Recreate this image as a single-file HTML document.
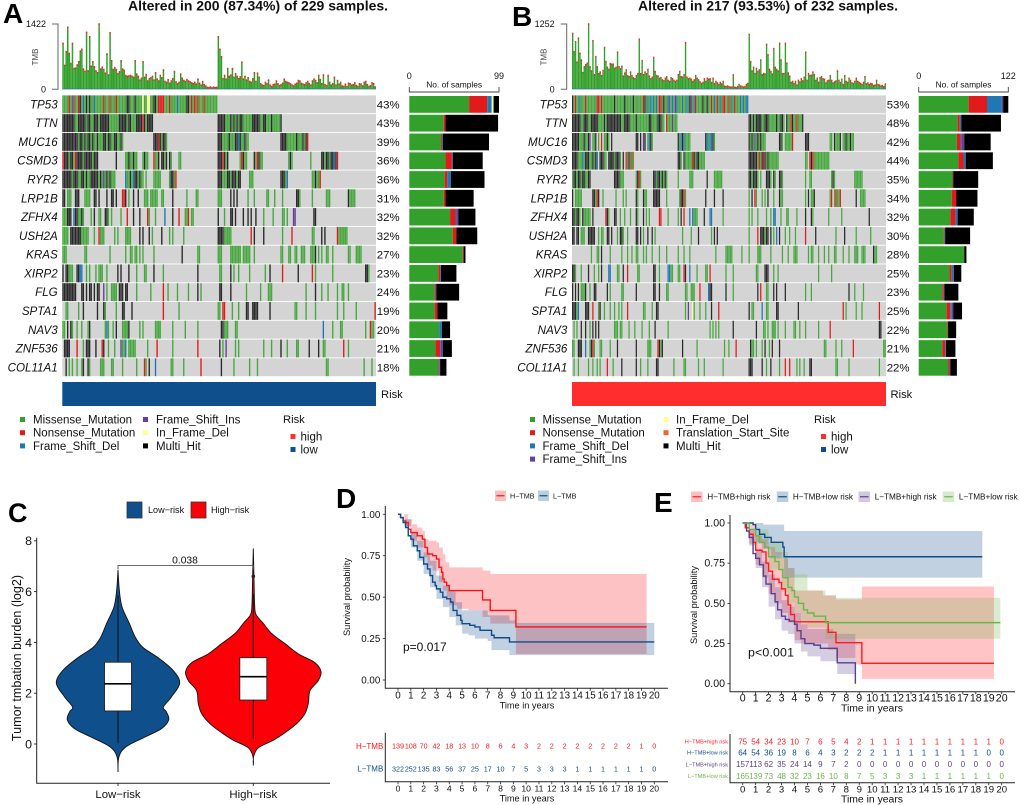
<!DOCTYPE html>
<html lang="en">
<head>
<meta charset="utf-8">
<title>Mutation landscape and survival panels</title>
<style>
html,body{margin:0;padding:0;background:#fff;}
#figure{display:block;width:1020px;height:805px;filter:blur(0.35px);font-family:"Liberation Sans",sans-serif;}
text{font-family:"Liberation Sans",sans-serif;fill:#111;}
</style>
</head>
<body>
<svg id="figure" xmlns="http://www.w3.org/2000/svg" width="1020" height="805" viewBox="0 0 1020 805">
  <rect x="0" y="0" width="1020" height="805" fill="#fff"/>
  <g id="panelA">
    <text x="3" y="23" font-size="28" font-weight="bold" style="fill:#000">A</text>
    <text x="128" y="10.5" font-size="14" font-weight="bold" textLength="260">Altered in 200 (87.34%) of 229 samples.</text>
    <text x="381" y="398" font-size="11.2">Risk</text>
    <text x="283" y="423" font-size="11.2">Risk</text>
  </g>
  <g id="panelB">
    <text x="512" y="26" font-size="28" font-weight="bold" style="fill:#000">B</text>
    <text x="638" y="10.5" font-size="14" font-weight="bold" textLength="260">Altered in 217 (93.53%) of 232 samples.</text>
    <text x="890.5" y="398" font-size="11.2">Risk</text>
    <text x="814" y="423" font-size="11.2">Risk</text>
  </g>
  <g id="panelC">
    <text x="8" y="522" font-size="27" font-weight="bold" style="fill:#000">C</text>
    <text transform="translate(21,658) rotate(-90)" text-anchor="middle" font-size="12.6">Tumor tmbation burden (log2)</text>
    <rect x="127" y="502" width="15" height="16" fill="#0f4f8b" stroke="#333" stroke-width="0.8"/>
    <text x="148" y="513" font-size="9.1">Low−risk</text>
    <rect x="191" y="502" width="15" height="16" fill="#fb0007" stroke="#333" stroke-width="0.8"/>
    <text x="211" y="513" font-size="9.1">High−risk</text>
    <text x="185" y="563.5" text-anchor="middle" font-size="10.3">0.038</text>
  </g>
  <g id="panelD">
    <text x="336" y="508" font-size="28" font-weight="bold" style="fill:#000">D</text>
    <text transform="translate(350,597) rotate(-90)" text-anchor="middle" font-size="9.3">Survival probability</text>
    <text x="527" y="708.5" text-anchor="middle" font-size="9.2">Time in years</text>
    <text x="527" y="801.5" text-anchor="middle" font-size="9.2">Time in years</text>
    <text x="403" y="651" font-size="12">p=0.017</text>
  </g>
  <g id="panelE">
    <text x="654" y="512" font-size="28" font-weight="bold" style="fill:#000">E</text>
    <text transform="translate(697,605) rotate(-90)" text-anchor="middle" font-size="9.3">Survival probability</text>
    <text x="872" y="711.5" text-anchor="middle" font-size="10.4">Time in years</text>
    <text x="872" y="802.5" text-anchor="middle" font-size="10.4">Time in years</text>
    <text x="748" y="656.5" font-size="12.4" textLength="46">p&lt;0.001</text>
  </g>
</svg>
<script>
/* ---------- Oncoplot data ---------- */
const genesA = ["TP53","TTN","MUC16","CSMD3","RYR2","LRP1B","ZFHX4","USH2A","KRAS","XIRP2","FLG","SPTA1","NAV3","ZNF536","COL11A1"];
const pctA = ["43%","43%","39%","36%","36%","31%","32%","32%","27%","23%","24%","19%","20%","21%","18%"];
const genesB = ["TP53","TTN","MUC16","CSMD3","RYR2","LRP1B","ZFHX4","USH2A","KRAS","XIRP2","FLG","SPTA1","NAV3","ZNF536","COL11A1"];
const pctB = ["53%","48%","42%","44%","35%","34%","32%","30%","28%","25%","23%","25%","22%","21%","22%"];

/* Mutated sample runs: <first sample><type><run length>; later tokens overwrite earlier ones. */
const cellsA = [
"0m99 4n1 6d1 7n1 10n1 11k1 13d1 15k1 17k1 20d1 26n1 30n1 34n1 41k2 46k1 51f1 54f1 55f1 58k2 61n4 68n1 73d1 79k2 82n1 84n1 86n1 90n1",
"0k8 8m2 10k5 15m1 16k2 18m2 20k3 23m1 24k6 30m6 36k5 41m1 42k2 44m3 47k4 51n1 52k1 53m1 54k4 99k5 104m3 107k1 108m1 109k1 110m1 111k1 112m1 113k2 115m6 121k5 126m2 128k2 130m3 133k1 134m5 139k1",
"0k10 10m1 11k2 13m1 14k1 15m1 16k2 18m1 19k1 20m2 22k1 23m3 26k2 28m1 29k2 31m2 33k2 35m2 37k1 38m1 58k3 61n1 62k1 63m1 64k2 66m1 99k3 102m4 106k1 107m3 110k2 112d1 113k1 114m2 116k1 117m2 139k4 143m6 149k1 150m3 153k1 154m1 155k1 156n1",
"0n1 1k3 4m1 5k2 7m1 8n1 9k4 13m1 14k5 19m1 20k3 34k1 40m2 42k1 43m2 45k1 46m2 51m1 52k1 53m2 58n1 59m2 61k1 63k2 65m1 66k1 68k1 69m1 74m2 99k3 102n1 103k1 104m1 105k1 113m1 114n1 115k1 116m2 122k1 123m1 124n1 125k1 126m2 144m1 145k1 146m1 158m1 165k2 167m1 168k2 170m1 171k2 173d1 174k1 175n1",
"0k6 6m1 7k3 10m2 12k2 14m1 15k1 16m1 17m1 18k5 23m1 24k1 25m1 26i1 27m1 28k1 29m1 30k1 31m3 40d1 41m2 43k1 44m1 45d1 46k2 48m1 49k1 50m2 53m1 58m5 68m1 69k2 71m1 72n1 99k3 102m3 105k2 107m1 108k3 111m1 112k2 119m3 139k3 142m1 143d1 159m2 161k1 162m2 164n1",
"0k2 3m3 8k3 14m4 20k2 23k1 28k1 31k2 34k1 38n2 40k1 42m1 45k1 48k1 52m3 56m1 57m4 63m2 70k1 79m1 85m2 99m3 107k1 109k1 111k1 118m1 122m1 130m2 135m1 140m1 149k2 151m1 159m1 168m3 182k1 183m4",
"0m3 3k3 7d1 8k2 10m2 12k1 13m1 18m1 20k1 23m2 27k2 29m1 31m1 37m1 41n1 45k1 49k1 54n1 55m1 59m1 65d1 70k1 74n1 78m1 79m1 80n1 82m2 99k1 103m1 107k1 108k1 110k1 115k1 118k1 120k1 123k1 128m1 134m1 140m2 143m1 147i2 160k2",
"0m4 5k7 12m5 20m1 23n1 24m3 33m1 35m1 40m4 49k1 51k1 55k1 57m1 63k1 68m1 70m1 77m1 99k4 103m5 120n1 122k1 128k1 140m1 146n1 159m2 165k1 167k1 175n1 176m6",
"0m3 14m2 30m1 40m1 43m2 46m2 49m1 51m1 58m1 76k1 86m2 99m3 107m7 115m5 122m1 139m2 144m2 148m2 152m3 158m3 161k1 163m1 165m1 168m2 172m1 182m2 187m4",
"0k1 2k2 4m3 9k2 11d2 15m1 17m1 21m1 23m1 24m2 28m1 35k1 37k1 42k1 47m1 52m2 58k1 64m1 86k1 100m2 107k1 109m1 112m1 119m1 129m1 132k1 140n1 150k1 159n1 161m1 172m1 193k2 195m1",
"0k9 12k1 13k1 15k1 17k1 18k1 20k1 22k1 23k1 26i1 28m1 31m2 33m2 36k3 40k2 47m1 56m1 64n1 67m1 73m1 80m1 86k1 88m1 100k2 107k1 117m1 126m1 131m3 155m1 161k1 165m1 169m1 175m1 178m2 182m1",
"2m2 10m1 13k1 22k1 26k1 27m1 34m1 38k1 39k1 44k1 64n1 74m1 99m2 102n2 108m1 112m1 117k2 121k4 132k1 148m2 155m1 161m1 175m1 179m1 187m1 199n1",
"0m2 3k1 5k1 6m1 9m1 12m1 16m1 17k1 27m1 28d1 29m1 32m1 34k1 38m4 42k1 49m1 51m1 59m4 70m1 78m1 86m1 101k2 103m3 110m2 166d1 172m1 177m2 193m1 196n1 197m2",
"1k2 3k2 9n1 13m1 15k3 21k1 25n1 26k1 29m1 33m1 37i1 38m2 40d1 42m5 54m1 60n1 70m1 86n1 100k1 102m1 104i1 110m1 112m1 128m1 133m1 139k1 143m1 149m2 157k1 163k1 166m1 167m1 179n1 182m1",
"2k1 4m1 6m1 9m1 12m1 13k1 16k1 17m1 24m3 31m2 38m1 47m1 52n1 53m1 55k1 59d1 69m1 70m1 77m1 88n1 101k1 109m1 119m1 124m1 168m2 192m1 197m1"
];
const cellsB = [
"0m122 0k1 2n1 5d1 9n1 17n2 20n1 29k1 36k1 42k1 49n1 50k1 52d1 54d1 56d1 58d1 60n2 63k1 66i1 67d1 69d1 71i1 72d1 76d1 79d1 81k1 82i1 84d1 85n1 90k1 93k1 96n1 98d1 100n1 102d1 104n2 108n1 110d1 112n1 116d1 118d1 120d2",
"0k6 6m2 8k3 11m2 13k5 18m4 22k1 23m1 24k3 27k7 34m2 36k4 40m13 44k1 53k2 55m4 59k3 62m2 65n1 66m3 69i1 70m3 122k2 124m1 125k1 126m1 127k4 131m2 133k3 136m2 138m3 141k1 142m2 144k2 146m1 148k1 149m2 151n1 152k1 153m2 155n1 156m3 159k1",
"0k5 5m3 8k1 9m2 11k1 12i1 14m2 16k1 18m1 20n1 22m2 24k1 25m1 27k1 44k2 47k1 49i1 50k1 52m1 53d1 54k1 55m1 73k1 74m1 75d1 76k1 77d1 78m2 80m2 92k1 93d1 94m1 95d2 97k1 98m1 122k1 123m1 124k1 125m1 126i1 127m1 128k1 129m1 130k1 131m2 133m1 143k2 145m1 147m2 149m3 152n1 161k3 178m2 181k1 182m3 185k1 187m2 189k1 190m2 192k1 193m2",
"0k4 4m3 7d1 8m1 9k3 12m2 14k1 15m1 16k1 17d1 19k3 22m2 25k4 29m1 30k3 33m1 35k1 37n1 38m1 39k1 40m1 41n1 42m1 73k2 75m1 77k1 78m5 83n1 84k1 85m1 86k2 88m4 122k6 128m1 129n1 130m1 131k1 132n1 133k1 134m1 135k1 136m1 137m6 161m2 164n1 165k1 166n1 167m1 168m10",
"0m1 1k2 3m1 4k2 6m1 7k2 9m2 11k2 29k4 33m3 44m1 45k1 46n1 47m1 56k2 58m1 59k2 61m1 62k1 63m1 64k1 65m1 73m1 81m3 93k1 98m6 122k2 124m1 125k3 128m1 130m1 134k3 137m1 139k1 140m1 143k2 145m1 161m1 164m2 179m1 180k1 181m1 195m6",
"0k1 2m5 14k2 16m1 17n1 18k1 21m1 30m1 35m1 37m1 44k1 45m1 49k1 50m2 56k5 65m1 74m1 75k2 77n1 78m1 92k1 98k1 104k1 122m1 124k1 126n1 127m1 131m1 133m1 135k1 139m1 143k1 144m2 161m1 163k1 165m2 167k1 178m1 179n1 181m1 182n1 183m2 185n1 196k1 199m1 200m3",
"0k2 2m1 3k2 5m1 7k1 8m3 11m2 14k1 23n1 24k1 25m1 29k2 33m1 36m1 40m1 44k1 45m1 49k1 51m1 53m1 60n2 66m1 73m1 75k1 77n1 81d1 83d1 84m3 91k1 95d2 104m1 122m1 124m1 128m1 134m1 137m1 139d2 144m1 148m2 155m1 161k1 165k1 166m1 177m1 186m1 205k1",
"0k2 3k2 6m3 11k2 13k3 18m1 20m2 24k2 27k1 31m1 33k2 35m1 38m1 44k2 47k1 49m1 52k1 55k1 57m1 76m1 82m1 87k1 96m1 98k1 100k1 122m1 128n1 130k3 133m1 134k2 137k1 139m1 141d1 143k1 147m1 150m1 154m1 161n1 168k1 182m1 188k1 196m1 206m1",
"13m1 17m2 20k1 26m1 34m1 38m1 41m1 44m1 45m1 49m1 51m1 55m1 60m1 65m1 73m1 77m1 81m1 99m1 106m5 117m1 122m1 128m3 137m1 145m1 149m1 153m3 163m1 165m2 170m1 174m1 177m1 181m2 187m1 191m1 195m3 200m3 208k1 209m2",
"0k2 2m1 6m1 11k1 15m1 18m1 20k1 25d2 31m2 35k1 38n1 45m2 56k2 60m1 66d2 68m2 73m1 74m1 77n1 78k1 81d1 86m1 92m2 95n1 106m1 111m1 127m2 133k3 139m1 142m1 170m1 179m1",
"0k1 2k1 4k1 6m3 9k1 12m1 15k2 24k1 26m1 34m2 44k1 56k2 60k1 65m2 78m2 82m3 88n1 94d1 95k2 106k1 111m1 128k1 130n1 134m1 135m1 139k1 141k1 147k1 161m1 165m1 191k1 195m1 201m1",
"0k3 3m1 4d1 9k3 14n1 18m1 19k1 22m1 26m1 29m1 32m1 34m1 38n1 49m2 55m1 58k2 78m1 80i1 83f1 84m1 88m1 92m1 96k1 101n1 122k1 124m2 131d1 134m2 141k2 156k1 187n1 189m1 196m1 200m1 212n1",
"1m1 3m1 6k1 9k1 12m1 14k1 16k1 18k1 29m3 33m2 39m1 43m1 48m1 53m1 57k1 66m1 95m1 97m1 99m1 101m1 111k1 127k1 132m2 135m1 138m3 142m1 147m1 153m2 157m1 161m1 170m1 178n1 212k2",
"0m2 4k3 9d1 12m1 13k1 14n1 15m1 19m1 20m1 26m1 31k1 44k1 52m3 59n1 60k1 61m1 62k1 76k1 86m1 105m1 108m1 113n1 123k1 124m2 127m1 131m1 133k1 136m1 138k1 143k1 174m2 182m1 186m1 194n1 215m2",
"1m1 4m1 11m1 14m1 17m1 19m1 24n1 28m1 34k1 44k1 47m1 52m1 58k2 70m1 77m2 87m1 91m1 104m1 122k2 124k1 131k1 134m1 137k1 143m1 147n1 150n1 155m1 157m1 160m1 164k2 182m2 191m1 212m1"
];

/* Per-gene sample counts for the side bars */
const sideMissA = [66,38,35,40,39,38,45,48,59,32,28,28,33,29,32];
const sideNonA  = [20,2,1,7,3,2,6,4,1,2,1,3,0,5,1];
const sideDelA  = [5,0,1,1,4,0,1,0,0,1,0,0,3,1,1];
const sideInsA  = [0,0,0,0,0,0,2,0,0,0,1,0,0,2,0];
const sideFrameA= [2,0,0,0,0,0,0,0,0,0,0,0,0,0,0];
const sideMultiA= [6,58,51,33,37,31,19,23,2,17,25,11,9,10,7];

const sideMissB = [68,53,52,54,46,45,43,34,62,42,32,38,39,32,40];
const sideNonB  = [25,3,5,7,1,6,7,1,0,3,2,5,1,4,2];
const sideDelB  = [20,2,1,3,0,0,3,1,0,3,1,2,0,1,1];
const sideInsB  = [2,0,4,0,0,0,0,0,0,0,0,2,0,0,0];
const sideFrameB= [0,0,0,0,0,0,0,0,0,0,0,0,0,0,0];
const sideMultiB= [7,54,36,37,34,29,22,34,3,10,19,12,11,13,9];

const tmbA = [1000,520,820,1350,780,560,1000,450,460,530,600,830,870,440,390,1240,400,1145,500,600,490,400,360,1422,440,480,430,350,770,310,1230,620,430,470,430,340,380,620,440,410,
300,280,290,300,280,260,620,330,280,200,240,600,260,320,180,230,250,280,200,360,220,180,300,250,420,170,150,210,130,180,230,385,160,120,150,330,240,190,170,210,
180,160,140,120,150,110,220,130,90,165,100,70,40,35,50,30,45,35,40,1145,870,710,230,300,220,450,280,310,450,260,340,280,230,270,590,220,280,200,250,170,
150,230,360,170,350,260,120,90,80,150,120,200,90,60,100,110,180,120,80,100,130,220,170,150,140,120,90,70,110,130,190,180,130,110,100,140,170,120,90,180,
220,190,140,300,210,120,310,100,80,300,150,90,120,260,90,190,110,150,70,60,110,60,130,120,90,100,140,80,60,120,110,70,150,170,100,60,80,140,120,50];

const tmbB = [1070,720,910,520,980,690,560,320,430,470,500,1252,430,350,930,280,625,430,300,330,260,360,800,530,420,380,490,480,480,400,420,710,430,390,440,250,310,370,260,240,
330,260,220,200,260,300,960,300,550,280,330,300,380,250,200,230,610,340,260,250,210,220,180,160,210,240,170,150,220,200,170,150,170,280,340,240,230,280,895,230,
200,210,190,150,180,260,210,180,140,110,130,200,150,210,190,200,130,210,110,150,120,90,130,100,150,60,50,60,50,40,40,275,40,30,50,90,60,55,40,50,90,110,
1050,530,350,420,300,400,340,370,560,280,300,290,860,660,380,340,290,780,420,380,350,880,560,300,300,880,500,310,250,130,150,110,150,80,170,140,200,160,230,710,
170,300,260,270,330,280,170,210,130,220,240,200,190,120,160,170,260,170,120,140,160,350,170,130,190,90,260,150,130,210,170,120,110,150,210,150,130,110,90,130,240,100,120,90,110,100,70,80,170,90,80,60,70,50,100];

const mutationNamesA = ["Missense_Mutation","Nonsense_Mutation","Frame_Shift_Del","Frame_Shift_Ins","In_Frame_Del","Multi_Hit"];
const mutationKeysA = ["m","n","d","i","f","k"];
const mutationNamesB = ["Missense_Mutation","Nonsense_Mutation","Frame_Shift_Del","Frame_Shift_Ins","In_Frame_Del","Translation_Start_Site","Multi_Hit"];
const mutationKeysB = ["m","n","d","i","f","t","k"];

/* ---------- Violin data ---------- */
const violinLow = [[-1.1,0],[-0.5,0.015],[-0.1,0.125],[0.3,0.425],[0.6,0.65],[0.95,0.76],[1.27,0.725],[1.45,0.68],[1.85,0.8],[2.4,0.925],[2.9,0.825],[3.4,0.6],[3.8,0.375],[4.2,0.26],[4.75,0.17],[5.4,0.06],[6.05,0.02],[6.85,0]];
const violinHigh = [[-0.85,0],[-0.5,0.005],[-0.15,0.075],[0.15,0.3],[0.4,0.45],[0.8,0.65],[1.2,0.775],[1.6,0.825],[2.1,0.85],[2.5,0.975],[2.85,1.015],[3.2,0.925],[3.55,0.675],[3.95,0.475],[4.35,0.275],[4.75,0.15],[5.1,0.04],[5.5,0.02],[6.3,0.012],[6.95,0.007],[7.7,0]];
const boxLow = [0.03,1.3,2.37,3.22,5.85];
const boxHigh = [0.2,1.73,2.65,3.4,5.9];
const outliersHigh = [6.6];
const violinTicks = [0,2,4,6,8];
const pBracketValue = 7.03;

/* ---------- Survival data ---------- */
const yearTicks = [0,1,2,3,4,5,6,7,8,9,10,11,12,13,14,15,16,17,18,19,20];
const survivalTicks = ["0.00","0.25","0.50","0.75","1.00"];

const dHigh = [[0,1],[0.2,0.98],[0.4,0.96],[0.6,0.95],[0.8,0.91],[1,0.89],[1.5,0.87],[1.9,0.85],[2.1,0.8],[2.3,0.76],[2.7,0.75],[3,0.73],[3.2,0.68],[3.4,0.65],[3.5,0.61],[3.6,0.59],[3.8,0.57],[4,0.54],[6.6,0.483],[7.2,0.42],[9.2,0.32],[19.4,0.32]];
const dHighUpper = [[0,1],[0.8,0.97],[1.1,0.94],[1.5,0.92],[1.9,0.9],[2.1,0.85],[2.4,0.84],[3,0.83],[3.2,0.8],[3.5,0.76],[3.7,0.71],[4,0.68],[6.6,0.66],[7.2,0.64],[19.4,0.64]];
const dHighLower = [[0,1],[0.5,0.93],[1,0.84],[1.5,0.8],[2,0.74],[2.3,0.69],[2.7,0.66],[3.2,0.59],[3.5,0.54],[3.8,0.5],[4,0.45],[4.6,0.43],[5.5,0.42],[6.6,0.38],[7.2,0.34],[9.2,0.157],[19.4,0.157]];
const dLow = [[0,1],[0.2,0.98],[0.4,0.95],[0.6,0.92],[0.8,0.87],[1,0.85],[1.2,0.81],[1.5,0.78],[1.7,0.74],[2,0.7],[2.3,0.67],[2.5,0.63],[2.7,0.59],[2.9,0.57],[3,0.55],[3.3,0.53],[3.5,0.5],[3.8,0.49],[4.1,0.47],[4.3,0.42],[4.6,0.39],[4.9,0.36],[5,0.34],[5.6,0.33],[6,0.32],[6.4,0.3],[7.3,0.27],[7.5,0.255],[8.7,0.23],[20,0.23]];
const dLowUpper = [[0,1],[0.5,0.97],[1,0.89],[1.5,0.84],[2,0.77],[2.5,0.72],[3,0.63],[3.5,0.57],[4,0.54],[4.5,0.47],[5,0.42],[7,0.39],[8.7,0.36],[9.2,0.345],[20,0.345]];
const dLowLower = [[0,1],[0.5,0.92],[1,0.8],[1.5,0.72],[2,0.64],[2.5,0.56],[3,0.49],[3.5,0.44],[4,0.38],[4.5,0.33],[5,0.28],[5.5,0.27],[6,0.25],[7,0.235],[7.3,0.18],[8.7,0.15],[20,0.15]];
const dTableHigh = [139,108,70,42,18,13,10,8,6,4,3,2,2,2,2,2,2,2,2,1,0];
const dTableLow = [322,252,135,83,56,37,25,17,10,7,5,3,3,3,1,1,1,1,1,1,0];

const eHH = [[0,1],[0.2,0.97],[0.5,0.93],[0.8,0.88],[1,0.83],[1.5,0.82],[1.8,0.75],[2,0.7],[2.3,0.65],[2.8,0.63],[3,0.59],[3.3,0.55],[3.5,0.49],[3.7,0.43],[4,0.385],[6.6,0.32],[7.2,0.255],[9.2,0.127],[19.4,0.127]];
const eHHUpper = [[0,1],[0.5,0.99],[1,0.92],[1.5,0.9],[2,0.85],[2.5,0.82],[3,0.78],[3.5,0.72],[4,0.58],[6.2,0.55],[7.2,0.525],[9.2,0.605],[19.4,0.605]];
const eHHLower = [[0,1],[0.5,0.87],[1,0.74],[1.5,0.66],[2,0.56],[2.5,0.5],[3,0.44],[3.5,0.38],[4,0.27],[4.5,0.25],[6.6,0.21],[7.2,0.16],[8.7,0.12],[9.2,0.03],[19.4,0.03]];
const eHL = [[0,1],[0.8,0.99],[1,0.96],[1.3,0.93],[1.7,0.91],[2.2,0.88],[3.1,0.85],[3.2,0.79],[18.5,0.79]];
const eHLUpper = [[0,1],[1.6,0.99],[3.2,0.95],[18.5,0.95]];
const eHLLower = [[0,1],[1,0.88],[1.5,0.84],[2.2,0.78],[3.2,0.66],[18.5,0.655]];
const eLH = [[0,1],[0.3,0.95],[0.5,0.91],[0.8,0.81],[1,0.78],[1.3,0.74],[1.6,0.67],[1.8,0.62],[2.2,0.56],[2.5,0.51],[2.7,0.46],[3,0.42],[3.3,0.4],[3.6,0.39],[4,0.37],[4.2,0.33],[4.5,0.28],[4.8,0.25],[5.5,0.24],[6,0.22],[7.3,0.13],[8.7,0.13],[8.7,0]];
const eLHUpper = [[0,1],[0.5,0.96],[1,0.84],[1.5,0.76],[2,0.68],[2.5,0.6],[3,0.52],[3.5,0.48],[4,0.44],[4.5,0.37],[5,0.34],[7,0.31],[8.7,0.3]];
const eLHLower = [[0,1],[0.5,0.86],[1,0.72],[1.5,0.6],[2,0.48],[2.5,0.4],[3,0.33],[3.5,0.31],[4,0.25],[4.5,0.2],[5,0.17],[6,0.14],[7.3,0.06],[8.7,0.06]];
const eLL = [[0,1],[0.5,0.96],[1,0.92],[1.3,0.88],[1.7,0.85],[2,0.79],[2.5,0.76],[2.8,0.71],[3.1,0.66],[3.5,0.6],[3.8,0.58],[4,0.54],[4.3,0.5],[4.7,0.46],[5,0.44],[5.5,0.42],[6.4,0.38],[19.9,0.38]];
const eLLUpper = [[0,1],[1,0.96],[2,0.88],[3,0.82],[3.5,0.72],[4,0.68],[5,0.58],[6.4,0.55],[7.2,0.535],[19.9,0.54]];
const eLLLower = [[0,1],[1,0.87],[2,0.71],[3,0.57],[3.5,0.5],[4,0.44],[4.5,0.38],[5,0.35],[6.4,0.28],[19.9,0.275]];
const eTableHH = [75,54,34,23,10,7,6,5,4,2,1,1,1,1,1,1,1,1,1,1,0];
const eTableHL = [64,54,36,19,8,6,4,3,2,2,2,1,1,1,1,1,1,1,1,0,0];
const eTableLH = [157,113,62,35,24,14,9,7,2,0,0,0,0,0,0,0,0,0,0,0,0];
const eTableLL = [165,139,73,48,32,23,16,10,8,7,5,3,3,3,1,1,1,1,1,1,0];

/* ---------- Helpers ---------- */
const NS = "http://www.w3.org/2000/svg";
const COLORS = {m:"#46a83f",n:"#e31a1c",d:"#1f78b4",i:"#6a3d9a",f:"#ffff99",t:"#e8663c",k:"#2a2a2a"};
const BAR_COLORS = {m:"#33a02c",n:"#e31a1c",d:"#1f78b4",i:"#6a3d9a",f:"#ffff99",k:"#000000"};
function mk(parent, tag, attrs, text) {
  const el = document.createElementNS(NS, tag);
  for (const k in attrs) el.setAttribute(k, attrs[k]);
  if (text !== undefined) el.textContent = text;
  parent.appendChild(el);
  return el;
}
function linear(d0, d1, r0, r1) { return v => r0 + (v - d0) * (r1 - r0) / (d1 - d0); }

function decodeCells(str, n) {
  const out = new Array(n).fill("");
  str.split(" ").forEach(tok => {
    const m = tok.match(/^(\d+)([a-z])(\d+)$/);
    if (!m) return;
    const s = +m[1], len = +m[3];
    for (let i = s; i < s + len && i < n; i++) out[i] = m[2];
  });
  return out;
}

/* ---------- Oncoplot ---------- */
function drawOnco(root, cfg) {
  const n = cfg.tmb.length;
  const sx = linear(0, n, cfg.x0, cfg.x1);
  const sw = sx(1) - sx(0);
  const rowTop = 95, rowStep = 18.78;
  const ty = linear(0, cfg.tmbMax, 89.3, 24);

  const axis = mk(root, "path", {d:`M${cfg.axisX-6} ${ty(cfg.tmbMax)}H${cfg.axisX}V${ty(0)}H${cfg.axisX-6}`, fill:"none", stroke:"#666", "stroke-width":1});
  
  
  [cfg.tmbMax, 0].forEach(v => {
    const t = mk(root, "text", {x:cfg.axisX-12, y:ty(v)+3.2, "text-anchor":"end", "font-size":9}, String(v));
    
    
  });
  const tt = mk(root, "text", {transform:`translate(${cfg.axisX-20},57) rotate(-90)`, "text-anchor":"middle", "font-size":7.9, style:"fill:#444"}, "TMB");
  
  

  cfg.tmb.forEach((v, i) => {
    const b = mk(root, "rect", {x:sx(i), y:ty(v), width:sw*0.96, height:ty(0)-ty(v), fill:"#33a02c"});
    
    
    const c = mk(root, "rect", {x:sx(i), y:ty(v)-0.8, width:sw*0.96, height:1.6, fill:"#f0262a"});
    
    
  });
  const base = mk(root, "rect", {x:cfg.x0, y:ty(0)-0.8, width:cfg.x1-cfg.x0, height:0.8, fill:"#2f6fb0", opacity:0.7});
  
  

  const sideX = linear(0, cfg.sideMax, cfg.sideX0, cfg.sideX1);
  const br = mk(root, "path", {d:`M${sideX(0)} 87V92H${sideX(cfg.sideMax)}V87`, fill:"none", stroke:"#444", "stroke-width":0.9});
  
  
  [0, cfg.sideMax].forEach(v => {
    const t = mk(root, "text", {x:sideX(v), y:79, "text-anchor":"middle", "font-size":9}, String(v));
    
    
  });
  const st = mk(root, "text", {x:(sideX(0)+sideX(cfg.sideMax))/2, y:87.5, "text-anchor":"middle", "font-size":8.4}, "No. of samples");
  
  

  cfg.genes.forEach((g, r) => {
    const y = rowTop + r * rowStep;
    const cy = y + rowStep / 2;
    const label = mk(root, "text", {x:cfg.geneX, y:cy+4, "text-anchor":"end", "font-size":11.6, "font-style":"italic"}, g);
    
    
    const pct = mk(root, "text", {x:cfg.pctX, y:cy+4, "font-size":11.4}, cfg.pct[r]);
    
    
    const bg = mk(root, "rect", {x:cfg.x0, y:y+0.4, width:cfg.x1-cfg.x0, height:rowStep-0.9, fill:"#d4d4d4"});
    
    
    decodeCells(cfg.cells[r], n).forEach((t, i) => {
      if (!t) return;
      const cell = mk(root, "rect", {x:sx(i), y:y+0.4, width:sw-0.2, height:rowStep-0.9, fill:COLORS[t]});
      
      
    });
    let acc = 0;
    [["m",cfg.miss],["n",cfg.non],["d",cfg.del],["i",cfg.ins],["f",cfg.frame],["k",cfg.multi]].forEach(([k, arr]) => {
      const v = arr[r];
      if (v > 0) {
        const seg = mk(root, "rect", {x:sideX(acc), y:y+1, width:sideX(acc+v)-sideX(acc), height:rowStep-2, fill:BAR_COLORS[k]});
        
        
      }
      acc += v;
    });
  });

  const risk = mk(root, "rect", {x:cfg.x0, y:382, width:cfg.x1-cfg.x0, height:24, fill:cfg.riskColor});
  
  

  const keyColors = {m:"#33a02c",n:"#e31a1c",d:"#1f78b4",i:"#6a3d9a",f:"#ffff99",t:"#e8663c",k:"#000000"};
  cfg.names.forEach((name, i) => {
    const col = i < cfg.col1 ? 0 : 1;
    const row = col === 0 ? i : i - cfg.col1;
    const lx = cfg.legendX[col], ly = 419.5 + row * 13.2;
    const sq = mk(root, "rect", {x:lx, y:ly-2.5, width:5, height:5, fill:keyColors[cfg.keys[i]]});
    
    
    const tx = mk(root, "text", {x:lx+cfg.legendGap, y:ly+4, "font-size":11.5}, name);
    
    
  });
  [["high","#ff2d2d",436.5],["low","#0f4f8b",449.5]].forEach(([name, color, ly]) => {
    const sq = mk(root, "rect", {x:cfg.riskLegendX, y:ly-2.5, width:5, height:5, fill:color});
    
    
    const tx = mk(root, "text", {x:cfg.riskLegendX+10, y:ly+4, "font-size":11.5}, name);
    
    
  });
}

drawOnco(document.getElementById("panelA"), {
  genes:genesA, pct:pctA, cells:cellsA, tmb:tmbA, tmbMax:1422,
  miss:sideMissA, non:sideNonA, del:sideDelA, ins:sideInsA, frame:sideFrameA, multi:sideMultiA,
  sideMax:99, x0:62.3, x1:376, axisX:58, geneX:57.7, pctX:376.8, sideX0:409.3, sideX1:499,
  riskColor:"#0f4f8b", names:mutationNamesA, keys:mutationKeysA, col1:3, legendX:[20,143], legendGap:13, riskLegendX:290.5
});
drawOnco(document.getElementById("panelB"), {
  genes:genesB, pct:pctB, cells:cellsB, tmb:tmbB, tmbMax:1252,
  miss:sideMissB, non:sideNonB, del:sideDelB, ins:sideInsB, frame:sideFrameB, multi:sideMultiB,
  sideMax:122, x0:572, x1:886, axisX:566.7, geneX:567.3, pctX:886.7, sideX0:918.7, sideX1:1008.3,
  riskColor:"#ff2d2d", names:mutationNamesB, keys:mutationKeysB, col1:4, legendX:[530,663.5], legendGap:12.5, riskLegendX:821
});

/* ---------- Violin ---------- */
(function () {
  const root = document.getElementById("panelC");
  const y = linear(0, 8, 744, 540.8);
  const densityScale = 66.7;
  const centers = [118, 253.3];
  const names = ["Low−risk", "High−risk"];
  const fills = ["#0f4f8b", "#fb0007"];
  const curves = [violinLow, violinHigh];
  const boxes = [boxLow, boxHigh];

  function smooth(pts) {
    let d = "";
    for (let i = 0; i < pts.length - 1; i++) {
      const p0 = pts[Math.max(i-1,0)], p1 = pts[i], p2 = pts[i+1], p3 = pts[Math.min(i+2,pts.length-1)];
      const c1x = p1[0] + (p2[0]-p0[0]) / 6, c1y = p1[1] + (p2[1]-p0[1]) / 6;
      const c2x = p2[0] - (p3[0]-p1[0]) / 6, c2y = p2[1] - (p3[1]-p1[1]) / 6;
      d += `C${c1x} ${c1y} ${c2x} ${c2y} ${p2[0]} ${p2[1]}`;
    }
    return d;
  }
  curves.forEach((curve, g) => {
    const c = centers[g];
    const right = curve.map(([v, w]) => [c + w * densityScale, y(v)]);
    const left = curve.slice().reverse().map(([v, w]) => [c - w * densityScale, y(v)]);
    const d = `M${right[0][0]} ${right[0][1]}` + smooth(right) + smooth(left) + "Z";
    const shape = mk(root, "path", {d:d, fill:fills[g], stroke:"#111", "stroke-width":0.9});
    
    
    const b = boxes[g];
    const wh = mk(root, "line", {x1:c, x2:c, y1:y(b[0]), y2:y(b[4]), stroke:"#111", "stroke-width":1});
    
    
    const rect = mk(root, "rect", {x:c-13.5, y:y(b[3]), width:27, height:y(b[1])-y(b[3]), fill:"#fff", stroke:"#222", "stroke-width":0.9});
    
    
    const med = mk(root, "line", {x1:c-13.5, x2:c+13.5, y1:y(b[2]), y2:y(b[2]), stroke:"#000", "stroke-width":1.6});
    
    
    const lbl = mk(root, "text", {x:c, y:798, "text-anchor":"middle", "font-size":11.4}, names[g]);
    
    
    const tick = mk(root, "line", {x1:c, x2:c, y1:783.3, y2:786, stroke:"#222", "stroke-width":0.9});
    
    
  });
  outliersHigh.forEach(v => {
    const o = mk(root, "circle", {cx:centers[1], cy:y(v), r:1.8, fill:"#222"});
    
    
  });
  const axis = mk(root, "path", {d:"M36.7 537.7V783.3H330", fill:"none", stroke:"#222", "stroke-width":1});
  
  
  violinTicks.forEach(v => {
    const t = mk(root, "line", {x1:34, x2:36.7, y1:y(v), y2:y(v), stroke:"#222", "stroke-width":0.9});
    
    
    const l = mk(root, "text", {x:32, y:y(v)+4.4, "text-anchor":"end", "font-size":12.4}, String(v));
    
    
  });
  const bracket = mk(root, "path", {d:`M${centers[0]} ${y(pBracketValue)+4}V${y(pBracketValue)}H${centers[1]}V${y(pBracketValue)+4}`, fill:"none", stroke:"#555", "stroke-width":0.9});
  
  
})();

/* ---------- Survival ---------- */
function stepLine(points, x, y) {
  let d = `M${x(points[0][0])} ${y(points[0][1])}`;
  for (let i = 1; i < points.length; i++) d += `H${x(points[i][0])}V${y(points[i][1])}`;
  return d;
}
function ribbon(upper, lower, x, y) {
  let d = stepLine(upper, x, y);
  const last = lower.length - 1;
  d += `L${x(lower[last][0])} ${y(lower[last][1])}`;
  for (let i = last - 1; i >= 0; i--) d += `V${y(lower[i][1])}H${x(lower[i][0])}`;
  return d + "Z";
}
function drawSurvival(root, cfg) {
  const x = linear(0, 20, cfg.x0, cfg.x20);
  const y = linear(0, 1, cfg.y0, cfg.y1);
  cfg.series.forEach(s => {
    const band = mk(root, "path", {d:ribbon(s.upper, s.lower, x, y), fill:s.color, "fill-opacity":0.26, stroke:"none"});
    
    
  });
  cfg.series.forEach(s => {
    const line = mk(root, "path", {d:stepLine(s.curve, x, y), fill:"none", stroke:s.color, "stroke-width":1.4});
    
    
  });
  const axes = mk(root, "path", {d:`M${cfg.axisX} ${cfg.axisTop}V${cfg.axisBottom}H${cfg.axisRight}`, fill:"none", stroke:"#222", "stroke-width":1});
  
  
  survivalTicks.forEach(lbl => {
    const v = parseFloat(lbl);
    const t = mk(root, "line", {x1:cfg.axisX-2.5, x2:cfg.axisX, y1:y(v), y2:y(v), stroke:"#222", "stroke-width":0.8});
    
    
    const l = mk(root, "text", {x:cfg.axisX-5, y:y(v)+3.5, "text-anchor":"end", "font-size":cfg.tickFont}, lbl);
    
    
  });
  yearTicks.forEach(v => {
    const t = mk(root, "line", {x1:x(v), x2:x(v), y1:cfg.axisBottom, y2:cfg.axisBottom+2.5, stroke:"#222", "stroke-width":0.8});
    
    
    const l = mk(root, "text", {x:x(v), y:cfg.axisBottom+10, "text-anchor":"middle", "font-size":cfg.tickFont}, String(v));
    
    
    const t2 = mk(root, "line", {x1:x(v), x2:x(v), y1:cfg.tableBottom, y2:cfg.tableBottom+2.5, stroke:"#222", "stroke-width":0.8});
    
    
    const l2 = mk(root, "text", {x:x(v), y:cfg.tableBottom+10, "text-anchor":"middle", "font-size":cfg.tableTickFont}, String(v));
    
    
  });
  const tableAxes = mk(root, "path", {d:`M${cfg.axisX} ${cfg.tableTop}V${cfg.tableBottom}H${cfg.axisRight}`, fill:"none", stroke:"#222", "stroke-width":1});
  
  
  cfg.series.forEach((s, r) => {
    const ry = cfg.tableRows[r];
    const rl = mk(root, "text", {x:cfg.axisX-2, y:ry+cfg.rowLabelFont*0.35, "text-anchor":"end", "font-size":cfg.rowLabelFont, style:"fill:"+s.color}, s.label);
    
    
    s.table.forEach((v, i) => {
      const c = mk(root, "text", {x:x(yearTicks[i]), y:ry+cfg.tableFont*0.36, "text-anchor":"middle", "font-size":cfg.tableFont, style:"fill:"+s.color}, String(v));
      
      
    });
    const lx = cfg.legendX[r], ly = cfg.legendY;
    const sw = mk(root, "rect", {x:lx, y:ly, width:cfg.legendSw, height:10.5, fill:s.color, "fill-opacity":0.28});
    
    
    const ll = mk(root, "line", {x1:lx+1.5, x2:lx+cfg.legendSw-1.5, y1:ly+5.25, y2:ly+5.25, stroke:s.color, "stroke-width":1.2});
    
    
    const lt = mk(root, "text", {x:lx+cfg.legendSw+cfg.legendPad, y:ly+8.2, "font-size":cfg.legendFont}, s.label);
    
    
  });
}
drawSurvival(document.getElementById("panelD"), {
  x0:398, x20:654.3, y0:680, y1:514.3,
  axisX:385.3, axisTop:506, axisBottom:688.3, axisRight:668, tickFont:9.8,
  tableTop:732.7, tableBottom:781.7, tableRows:[746,768.7], tableFont:7.2, tableTickFont:8.6, rowLabelFont:8,
  legendX:[495,538], legendY:490.5, legendSw:11, legendPad:4, legendFont:7.2,
  series:[
    {name:"h-tmb", label:"H−TMB", color:"#f8151a", curve:dHigh, upper:dHighUpper, lower:dHighLower, table:dTableHigh},
    {name:"l-tmb", label:"L−TMB", color:"#0f4c8a", curve:dLow, upper:dLowUpper, lower:dLowLower, table:dTableLow}
  ]
});
drawSurvival(document.getElementById("panelE"), {
  x0:742.7, x20:1001.7, y0:683.7, y1:523,
  axisX:730, axisTop:515, axisBottom:691.7, axisRight:1015, tickFont:10.6,
  tableTop:734, tableBottom:782.7, tableRows:[741.7,752.7,764.3,776], tableFont:8, tableTickFont:9.6, rowLabelFont:5.6,
  legendX:[691,776.7,858.5,942.7], legendY:491.5, legendSw:11.6, legendPad:4.6, legendFont:8.2,
  series:[
    {name:"h-tmb-high-risk", label:"H−TMB+high risk", color:"#ff1a1f", curve:eHH, upper:eHHUpper, lower:eHHLower, table:eTableHH},
    {name:"h-tmb-low-risk", label:"H−TMB+low risk", color:"#0f4c8a", curve:eHL, upper:eHLUpper, lower:eHLLower, table:eTableHL},
    {name:"l-tmb-high-risk", label:"L−TMB+high risk", color:"#5b3f8c", curve:eLH, upper:eLHUpper, lower:eLHLower, table:eTableLH},
    {name:"l-tmb-low-risk", label:"L−TMB+low risk", color:"#6bb54d", curve:eLL, upper:eLLUpper, lower:eLLLower, table:eTableLL}
  ]
});
</script>
</body>
</html>
